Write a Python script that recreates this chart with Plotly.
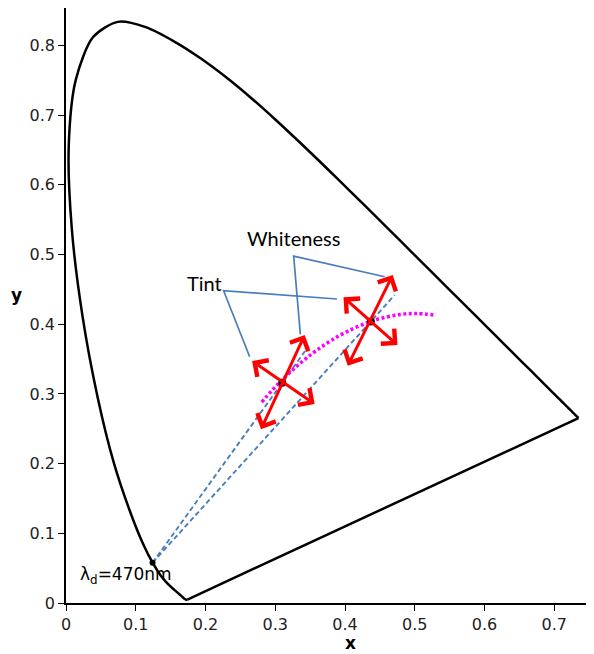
import plotly.graph_objects as go

# CIE 1931 spectral locus (380-700 nm)
locus_x = [0.1741, 0.1740, 0.1738, 0.1736, 0.1733, 0.1730, 0.1726, 0.1721, 0.1714, 0.1703,
           0.1689, 0.1669, 0.1644, 0.1611, 0.1566, 0.1510, 0.1440, 0.1355, 0.1241, 0.1096,
           0.0913, 0.0687, 0.0454, 0.0235, 0.0082, 0.0039, 0.0139, 0.0389, 0.0743, 0.1142,
           0.1547, 0.1929, 0.2296, 0.2658, 0.3016, 0.3373, 0.3731, 0.4087, 0.4441, 0.4788,
           0.5125, 0.5448, 0.5752, 0.6029, 0.6270, 0.6482, 0.6658, 0.6801, 0.6915, 0.7006,
           0.7079, 0.7140, 0.7190, 0.7230, 0.7260, 0.7283, 0.7300, 0.7311, 0.7320, 0.7334,
           0.7344, 0.7347]
locus_y = [0.0050, 0.0050, 0.0049, 0.0049, 0.0048, 0.0048, 0.0048, 0.0048, 0.0051, 0.0058,
           0.0069, 0.0086, 0.0109, 0.0138, 0.0177, 0.0227, 0.0297, 0.0399, 0.0578, 0.0868,
           0.1327, 0.2007, 0.2950, 0.4127, 0.5384, 0.6548, 0.7502, 0.8120, 0.8338, 0.8262,
           0.8059, 0.7816, 0.7543, 0.7243, 0.6923, 0.6589, 0.6245, 0.5896, 0.5547, 0.5202,
           0.4866, 0.4544, 0.4242, 0.3965, 0.3725, 0.3514, 0.3340, 0.3197, 0.3083, 0.2993,
           0.2920, 0.2859, 0.2809, 0.2770, 0.2740, 0.2717, 0.2700, 0.2689, 0.2680, 0.2666,
           0.2656, 0.2653]

# Planckian locus 10000 K .. 2000 K
planck_x = [0.2806, 0.2952, 0.3064, 0.3135, 0.3221, 0.3325, 0.3451, 0.3608, 0.3805,
            0.4053, 0.4369, 0.4476, 0.4770, 0.5018, 0.5267]
planck_y = [0.2883, 0.3048, 0.3166, 0.3237, 0.3318, 0.3411, 0.3516, 0.3636, 0.3768,
            0.3907, 0.4041, 0.4074, 0.4137, 0.4153, 0.4133]

# Dominant wavelength point and the two white points
lam_x, lam_y = 0.1241, 0.0578
pts_x = [0.310, 0.437]
pts_y = [0.316, 0.404]
# dashed line end points
dash_end_x = [0.348, 0.471]

# red double-headed arrows (x0, y0, x1, y1)
arrows = [
    (0.2786, 0.2472, 0.3422, 0.3845),
    (0.2647, 0.3486, 0.3565, 0.2855),
    (0.4029, 0.3382, 0.4684, 0.4706),
    (0.3957, 0.4405, 0.4752, 0.3702),
]

# callout lines
white_x = [0.4569, 0.3264, 0.3360]
white_y = [0.4681, 0.4978, 0.3855]
tint_x = [0.3885, 0.2260, 0.2633]
tint_y = [0.4362, 0.4481, 0.3534]

fig = go.Figure()

fig.add_trace(go.Scatter(x=locus_x, y=locus_y, mode="lines",
                         line=dict(color="black", width=2.5, shape="spline", smoothing=0.8),
                         hoverinfo="skip"))
fig.add_trace(go.Scatter(x=[locus_x[-1], locus_x[0]], y=[locus_y[-1], locus_y[0]], mode="lines",
                         line=dict(color="black", width=2.5), hoverinfo="skip"))

for px, py, ex in zip(pts_x, pts_y, dash_end_x):
    slope = (py - lam_y) / (px - lam_x)
    fig.add_trace(go.Scatter(x=[lam_x, ex], y=[lam_y, lam_y + slope * (ex - lam_x)],
                             mode="lines",
                             line=dict(color="#4a7ebb", width=1.9, dash="5px,3px")))

fig.add_trace(go.Scatter(x=planck_x, y=planck_y, mode="lines",
                         line=dict(color="#ff00ff", width=3.5, dash="3px,2.5px",
                                   shape="spline")))

fig.add_trace(go.Scatter(x=white_x, y=white_y, mode="lines",
                         line=dict(color="#4a7ebb", width=1.7)))
fig.add_trace(go.Scatter(x=tint_x, y=tint_y, mode="lines",
                         line=dict(color="#4a7ebb", width=1.7)))

for (x0, y0, x1, y1) in arrows:
    fig.add_annotation(x=x1, y=y1, ax=x0, ay=y0, xref="x", yref="y", axref="x", ayref="y",
                       text="", showarrow=True, arrowhead=4, startarrowhead=4,
                       arrowside="end+start", arrowsize=1.3, startarrowsize=1.3,
                       arrowwidth=3, arrowcolor="#ff0000")

fig.add_trace(go.Scatter(x=pts_x, y=pts_y, mode="markers",
                         marker=dict(color="black", size=8)))
fig.add_trace(go.Scatter(x=[lam_x], y=[lam_y], mode="markers",
                         marker=dict(color="black", size=6)))

fig.add_annotation(x=0.3264, y=0.5237, xref="x", yref="y", text="Whiteness", showarrow=False,
                   font=dict(family="Lato, Open Sans, sans-serif", size=20, color="black"))
fig.add_annotation(x=0.1987, y=0.459, xref="x", yref="y", text="Tint", showarrow=False,
                   font=dict(family="Lato, Open Sans, sans-serif", size=20, color="black"))
fig.add_annotation(x=0.017, y=0.040, xref="x", yref="y", text="λ<sub>d</sub>=470nm",
                   showarrow=False, xanchor="left",
                   font=dict(family="DejaVu Sans, Verdana, sans-serif", size=17, color="black"))

# axis titles
fig.add_annotation(x=0.538, y=-0.067, xref="paper", yref="paper",
                   xanchor="center", yanchor="middle",
                   text="<b>x</b>", showarrow=False,
                   font=dict(family="DejaVu Sans, sans-serif", size=17, color="black"))
fig.add_annotation(x=-0.093, y=0.518, xref="paper", yref="paper",
                   xanchor="center", yanchor="middle",
                   text="<b>y</b>", showarrow=False,
                   font=dict(family="DejaVu Sans, sans-serif", size=17, color="black"))

axis_common = dict(showgrid=False, zeroline=False, showline=True, linecolor="black",
                   linewidth=1.5, ticks="outside", ticklen=6, tickcolor="black", tickwidth=1.2,
                   automargin=False,
                   tickfont=dict(family="DejaVu Sans, Verdana, sans-serif", size=16, color="#222"))

fig.update_layout(
    width=586, height=646,
    margin=dict(l=58, r=0, t=0, b=51),
    plot_bgcolor="white", paper_bgcolor="white",
    showlegend=False,
    xaxis=dict(range=[0, 0.757], tickvals=[0, 0.1, 0.2, 0.3, 0.4, 0.5, 0.6, 0.7],
               ticktext=["0", "0.1", "0.2", "0.3", "0.4", "0.5", "0.6", "0.7"],
               **axis_common),
    yaxis=dict(range=[0, 0.8537], tickvals=[0, 0.1, 0.2, 0.3, 0.4, 0.5, 0.6, 0.7, 0.8],
               ticktext=["0", "0.1", "0.2", "0.3", "0.4", "0.5", "0.6", "0.7", "0.8"],
               **axis_common),
)

fig.write_html("out.html")
